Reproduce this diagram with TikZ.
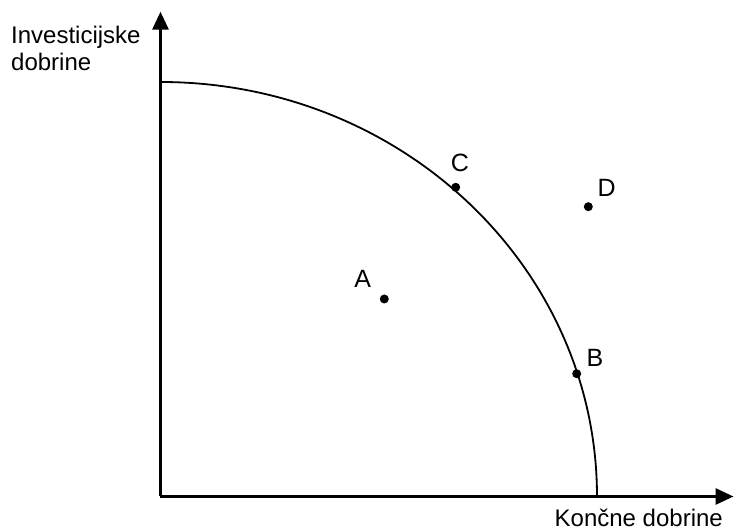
\documentclass[tikz,border=0pt]{standalone}
\usepackage{fontspec}
\setmainfont{Liberation Sans}
\usetikzlibrary{arrows.meta, positioning}

\begin{document}
\begin{tikzpicture}[x=1pt, y=1pt,
        axis/.style={line width=3pt, -{Triangle[length=18pt, width=16pt]}},
        frontier/.style={line width=1.8pt},
        dot/.style={circle, fill=black, inner sep=0pt, minimum size=9pt},
        point label/.style={inner sep=0pt, font=\fontsize{25}{28}\selectfont},
        axis label/.style={inner sep=0pt, align=left, font=\fontsize{24}{27}\selectfont},
    ]
        \useasboundingbox (-160.5,-35.5) rectangle (573.5,496.5);

        % Axes
        \coordinate (origin) at (0,0);
        \coordinate (ytop) at (0,484.8);
        \coordinate (xend) at (573,0);
        \draw[axis] (origin) -- (ytop);
        \draw[axis] (origin) -- (xend);

        % Axis labels
        \node[axis label, anchor=north west] (ylabel) at (-149.5,470.5) {Investicijske\\dobrine};
        \node[axis label, anchor=base west] (xlabel) at (394,-30.5) {Končne dobrine};

        % Production possibility frontier
        \coordinate (ppfstart) at (0,414.5);
        \draw[frontier] (ppfstart) arc[start angle=90, end angle=0, x radius=436.5, y radius=414.5];

        % Points
        \node[dot] (ptA) at (223.8,197.5) {};
        \node[dot] (ptB) at (416.2,122.8) {};
        \node[dot] (ptC) at (295.2,309.2) {};
        \node[dot] (ptD) at (427.8,289.8) {};

        \node[point label] (labA) at (202.2,217.2) {A};
        \node[point label] (labB) at (434.5,138.2) {B};
        \node[point label] (labC) at (299.5,333.8) {C};
        \node[point label] (labD) at (446.2,308.8) {D};
    \end{tikzpicture}
\end{document}
